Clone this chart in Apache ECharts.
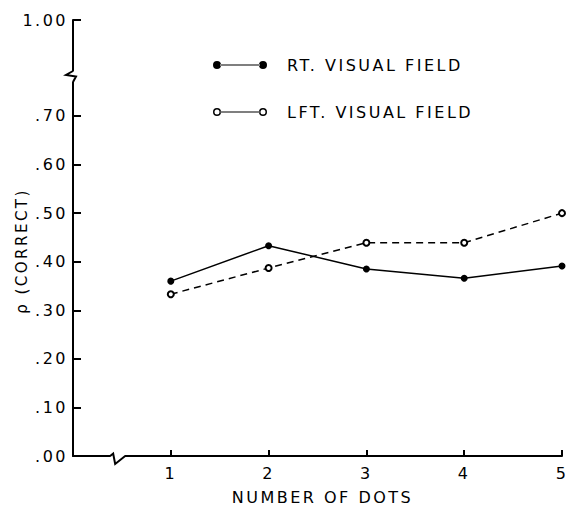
<!DOCTYPE html>
<html>
<head>
<meta charset="utf-8">
<script src="https://cdn.jsdelivr.net/npm/echarts@6/dist/echarts.min.js"></script>
<style>
  html, body { margin: 0; padding: 0; background: #fff; }
  #main { width: 568px; height: 505px; }
  #main text { letter-spacing: 2.5px; }
</style>
</head>
<body>
<div id="main"></div>
<script>
// ---- data ----
const xValues = [1, 2, 3, 4, 5];
const rtValues = [0.360, 0.433, 0.385, 0.366, 0.391];
const lftValues = [0.333, 0.387, 0.439, 0.439, 0.500];
const yTickValues = [0, 0.1, 0.2, 0.3, 0.4, 0.5, 0.6, 0.7, 1.0];
const xTickValues = [1, 2, 3, 4, 5];
const seriesNames = ['RT. VISUAL FIELD', 'LFT. VISUAL FIELD'];
const yBreak = { start: 0.77, end: 0.895 };
const xBreakAt = 0.38;

const FONT = 'DejaVu Sans';

const iconFilled = 'path://M0,4A4,4 0 1,0 8,4A4,4 0 1,0 0,4Z M7,3.5H47V4.5H7Z M46,4A4,4 0 1,0 54,4A4,4 0 1,0 46,4Z';
const iconHollow = 'path://M0,4A4,4 0 1,0 8,4A4,4 0 1,0 0,4Z M1.5,4A2.5,2.5 0 1,1 6.5,4A2.5,2.5 0 1,1 1.5,4Z M7.5,3.5H46.5V4.5H7.5Z M46,4A4,4 0 1,0 54,4A4,4 0 1,0 46,4Z M47.5,4A2.5,2.5 0 1,1 52.5,4A2.5,2.5 0 1,1 47.5,4Z';

function fmtY(v) {
  if (Math.abs(v - 1) < 1e-9) return '1.00';
  return '.' + String(Math.round(v * 100)).padStart(2, '0');
}

const chart = echarts.init(document.getElementById('main'), null, { renderer: 'svg' });

const option = {
  animation: false,
  backgroundColor: '#fff',
  grid: { left: 73, right: 6, top: 20, bottom: 49, containLabel: false, outerBoundsMode: 'none' },
  legend: {
    orient: 'vertical',
    left: 213,
    top: 57,
    padding: 0,
    itemWidth: 54,
    itemHeight: 8,
    itemGap: 31,
    selectedMode: false,
    data: [
      { name: seriesNames[0], icon: iconFilled, itemStyle: { color: '#000', borderWidth: 0 } },
      { name: seriesNames[1], icon: iconHollow, itemStyle: { color: '#000', borderWidth: 0 } }
    ],
    itemStyle: { borderWidth: 0 },
    textStyle: { fontSize: 16, fontFamily: FONT, color: '#000', padding: [0, 0, 0, 15] }
  },
  xAxis: {
    type: 'value',
    min: 0,
    max: 5,
    interval: 1,
    axisLine: { show: true, lineStyle: { color: '#000', width: 2 } },
    axisTick: { show: true, inside: true, length: 6, customValues: xTickValues, lineStyle: { color: '#000', width: 2 } },
    axisLabel: { customValues: xTickValues, color: '#000', fontSize: 16, fontFamily: FONT, margin: 9 },
    splitLine: { show: false },
    name: 'NUMBER OF DOTS',
    nameLocation: 'middle',
    nameGap: 33,
    nameMoveOverlap: false,
    nameTextStyle: { color: '#000', fontSize: 16, fontFamily: FONT, padding: [0, 0, 0, 10] }
  },
  yAxis: {
    type: 'value',
    min: 0,
    max: 1,
    breaks: [{ start: yBreak.start, end: yBreak.end, gap: 0.0226 }],
    breakArea: { show: false },
    axisLine: { show: true, lineStyle: { color: '#000', width: 2 } },
    axisTick: { show: true, inside: true, length: 8, customValues: yTickValues, lineStyle: { color: '#000', width: 2 } },
    axisLabel: { customValues: yTickValues, formatter: fmtY, color: '#000', fontSize: 16, fontFamily: FONT, margin: 5 },
    splitLine: { show: false },
    name: 'ρ (CORRECT)',
    nameLocation: 'middle',
    nameRotate: 90,
    nameGap: 44,
    nameMoveOverlap: false,
    nameTextStyle: { color: '#000', fontSize: 15, fontFamily: FONT, padding: [0, 26, 0, 0] }
  },
  series: [
    {
      name: seriesNames[0],
      type: 'line',
      data: xValues.map((x, i) => [x, rtValues[i]]),
      symbol: 'circle',
      symbolSize: 7,
      itemStyle: { color: '#000' },
      lineStyle: { color: '#000', width: 1.5 }
    },
    {
      name: seriesNames[1],
      type: 'line',
      data: xValues.map((x, i) => [x, lftValues[i]]),
      symbol: 'emptyCircle',
      symbolSize: 6,
      itemStyle: { color: '#000', borderWidth: 1.5 },
      lineStyle: { color: '#000', width: 1.5, type: [7, 5] }
    }
  ]
};

chart.setOption(option);

// axis break decorations (zigzags), positioned through the axes
const ax = chart.convertToPixel({ xAxisIndex: 0 }, 0);
const yt = chart.convertToPixel({ yAxisIndex: 0 }, yBreak.end);
const yb = chart.convertToPixel({ yAxisIndex: 0 }, yBreak.start);
const ay = chart.convertToPixel({ yAxisIndex: 0 }, 0);
const xz = chart.convertToPixel({ xAxisIndex: 0 }, xBreakAt);

chart.setOption({
  graphic: [
    { type: 'rect', shape: { x: ax - 3, y: yt + 0.5, width: 6, height: yb - yt - 1 }, style: { fill: '#fff' }, z: 100 },
    { type: 'polyline', shape: { points: [[ax, yt], [ax - 7, yt + 4], [ax + 3, yt + 5.5], [ax, yb]] }, style: { stroke: '#000', lineWidth: 2, fill: null }, z: 101 },
    { type: 'rect', shape: { x: xz + 0.5, y: ay - 3, width: 14, height: 6 }, style: { fill: '#fff' }, z: 100 },
    { type: 'polyline', shape: { points: [[xz, ay], [xz + 3, ay - 2.5], [xz + 5, ay + 8], [xz + 15, ay]] }, style: { stroke: '#000', lineWidth: 2, fill: null }, z: 101 }
  ]
});
</script>
</body>
</html>
